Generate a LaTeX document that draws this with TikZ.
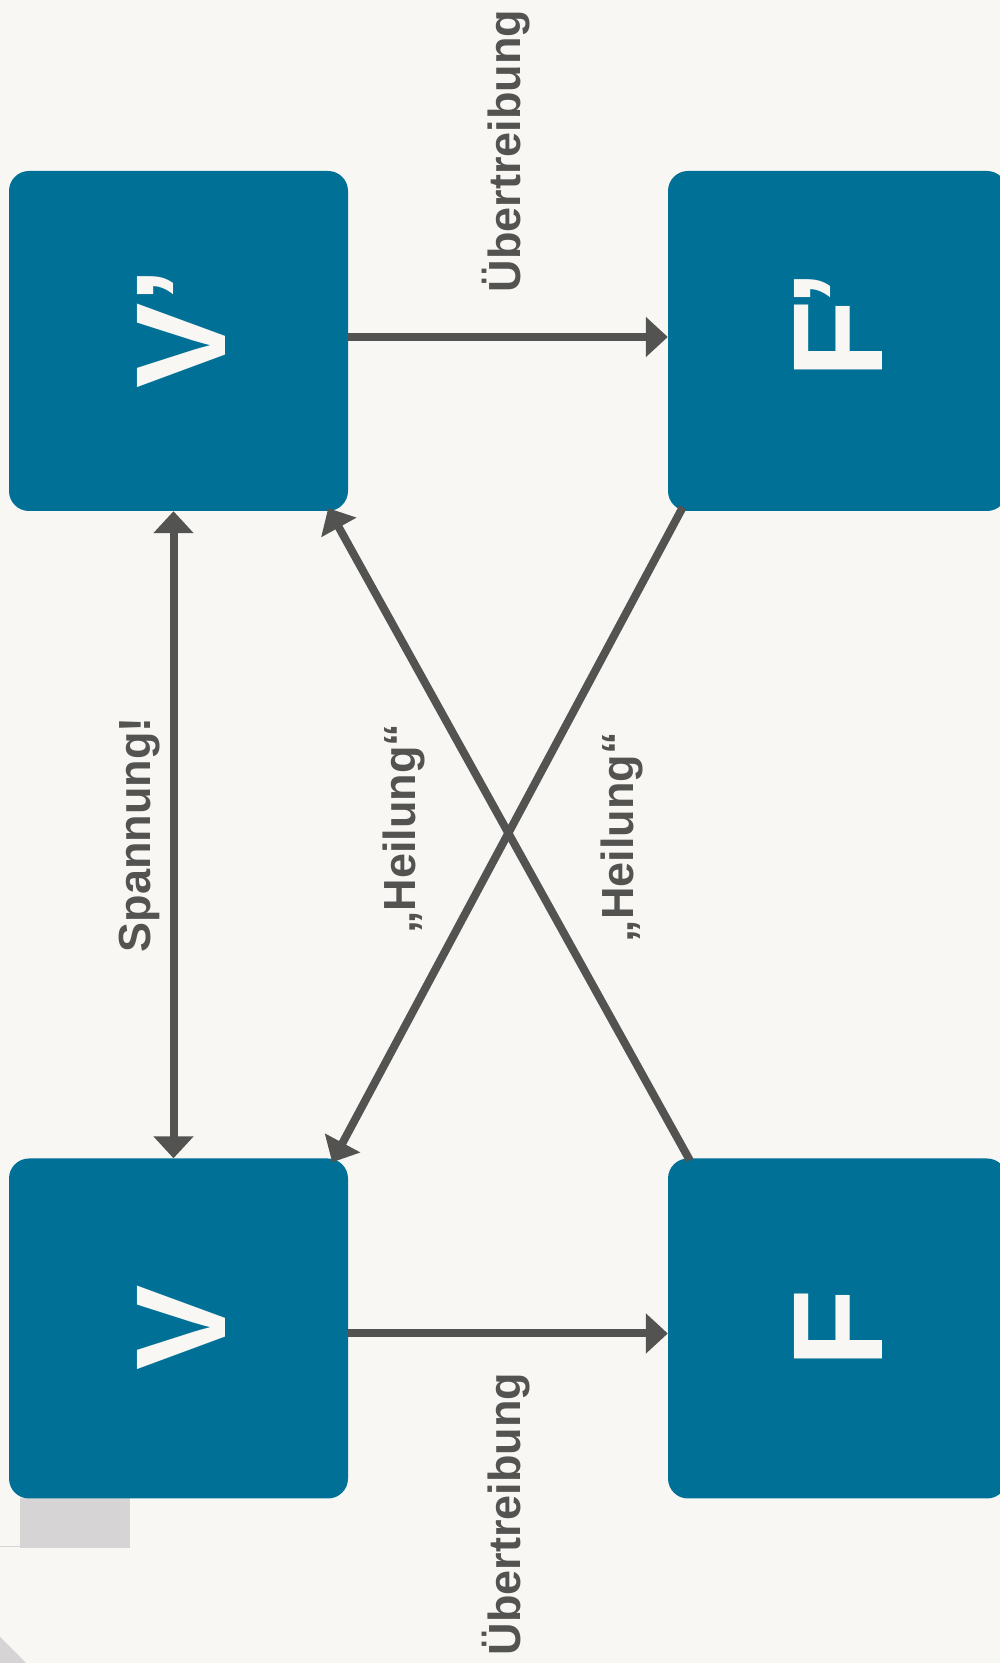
\documentclass[tikz,border=0pt]{standalone}
\usepackage{fontspec}
\setmainfont{Liberation Sans}
\usetikzlibrary{arrows.meta,calc}
\definecolor{bg}{HTML}{F8F7F4}
\definecolor{boxblue}{HTML}{007096}
\definecolor{ink}{HTML}{535351}
\definecolor{lightgray}{HTML}{D6D4D5}
\tikzset{
  box/.style={rectangle, rounded corners=20pt, fill=boxblue, minimum width=339pt, minimum height=340pt, inner sep=0pt},
  letter/.style={rotate=90, anchor=base, text=bg, font=\fontsize{128}{128}\selectfont\bfseries, inner sep=0pt},
  lbl/.style={rotate=90, anchor=base, text=ink, font=\fontsize{45}{45}\selectfont\bfseries, inner sep=0pt},
  conn/.style={draw=ink, line width=8pt, -{Triangle[length=22pt,width=39pt]}},
  conntwo/.style={draw=ink, line width=8pt, {Triangle[length=22pt,width=39pt]}-{Triangle[length=22pt,width=39pt]}}
}
\begin{document}
\begin{tikzpicture}[x=1pt,y=1pt]
\fill[bg] (0,0) rectangle (1000,1663);
\useasboundingbox (0,0) rectangle (1000,1663);
% decorative grey pieces
\fill[lightgray] (20,115) rectangle (130,165);
\draw[lightgray, line width=1pt] (0,116) -- (20,116);
\fill[lightgray] (0,0) -- (0,26) -- (26,0) -- cycle;
% boxes
\node[box] (Vp) at (178.5,1322) {};
\node[box] (Fp) at (837.5,1322) {};
\node[box] (V)  at (178.5,334.5) {};
\node[box] (F)  at (837.5,334.5) {};
% letters
\node[letter] (tVp) at (225,1335) {V’};
\node[letter] (tFp) at (882,1338) {F\kern-0.05em’};
\node[letter] (tV)  at (225,335) {V};
\node[letter] (tF)  at (882,335) {F};
% connectors
\draw[conn] ([yshift=4pt]Vp.east) -- ([yshift=4pt]Fp.west);
\draw[conn] ([yshift=-5pt]V.east) -- ([yshift=-5pt]F.west);
\draw[conntwo] ([xshift=-5pt]Vp.south) -- ([xshift=-5pt]V.north);
\draw[conn] ($(F.north west)+(22,-2)$) -- ($(Vp.south east)+(-20,3)$);
\draw[conn] ($(Fp.south west)+(15,4)$) -- ($(V.north east)+(-16,-4)$);
% labels
\node[lbl] (l1) at (520,1512) {Übertreibung};
\node[lbl] (l2) at (520,149) {Übertreibung};
\node[lbl] (l3) at (150,828) {Spannung!};
\node[lbl] (l4) at (415,834) {„Heilung“};
\node[lbl] (l5) at (633,825.5) {„Heilung“};
\end{tikzpicture}
\end{document}
